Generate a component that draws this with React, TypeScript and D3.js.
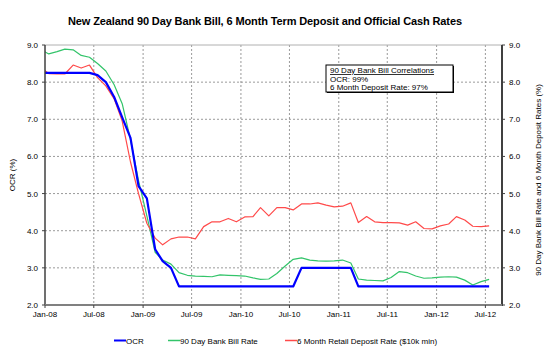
import React from "react";
import * as d3 from "d3";

// Monthly observations (plotted mid-month), Dec-07 .. Jul-12
const startMonth = new Date(2007, 11, 1);
const endMonth = new Date(2012, 7, 1);

const ocr = [
  8.25,
  8.25, 8.25, 8.25, 8.25, 8.25, 8.25,
  8.19, 8.0, 7.6, 7.05, 6.5, 5.2,
  4.87, 3.5, 3.18, 3.0,
  2.5, 2.5, 2.5, 2.5, 2.5, 2.5, 2.5, 2.5, 2.5, 2.5, 2.5, 2.5, 2.5, 2.5, 2.5,
  3.0, 3.0, 3.0, 3.0, 3.0, 3.0, 3.0,
  2.5, 2.5, 2.5, 2.5, 2.5, 2.5, 2.5, 2.5, 2.5, 2.5, 2.5, 2.5, 2.5, 2.5, 2.5, 2.5, 2.5,
];

const bankBill = [
  8.88,
  8.76, 8.82, 8.89, 8.87, 8.72, 8.67, 8.5, 8.3, 7.93, 7.42, 6.45, 5.35,
  4.4, 3.42, 3.21, 3.1, 2.87, 2.8, 2.78, 2.77, 2.76, 2.81, 2.8, 2.79,
  2.78, 2.73, 2.69, 2.7, 2.85, 3.05, 3.23, 3.27, 3.21, 3.19, 3.18, 3.19,
  3.21, 3.13, 2.7, 2.67, 2.66, 2.65, 2.74, 2.9, 2.87, 2.78, 2.72, 2.73,
  2.75, 2.76, 2.75, 2.67, 2.54, 2.63, 2.69,
];

const deposit = [
  8.4,
  8.23, 8.22, 8.22, 8.46, 8.38, 8.46, 8.12, 7.9, 7.55, 6.95, 5.85, 5.0,
  4.2, 3.8, 3.62, 3.78, 3.83, 3.83, 3.78, 4.11, 4.24, 4.24, 4.33, 4.24,
  4.37, 4.38, 4.62, 4.4, 4.62, 4.62, 4.56, 4.72, 4.72, 4.75, 4.69, 4.64,
  4.66, 4.75, 4.22, 4.38, 4.24, 4.22, 4.22, 4.21, 4.15, 4.24, 4.06, 4.05,
  4.13, 4.18, 4.38, 4.29, 4.12, 4.11, 4.13,
];

const yTicks = [2, 3, 4, 5, 6, 7, 8, 9];
const xTickLabels = ["Jan-08", "Jul-08", "Jan-09", "Jul-09", "Jan-10", "Jul-10", "Jan-11", "Jul-11", "Jan-12", "Jul-12"];
const seriesNames = ["OCR", "90 Day Bank Bill Rate", "6 Month Retail Deposit Rate ($10k min)"];
const seriesColors = ["#0000ff", "#33c46a", "#ff4a4a"];
const correlationLines = ["90 Day Bank Bill Correlations", "OCR: 99%", "6 Month Deposit Rate: 97%"];
const title = "New Zealand 90 Day Bank Bill, 6 Month Term Deposit and Official Cash Rates";

const W = 550, H = 358;
const L = 45, R = 502, T = 45, B = 305;
const FONT = "'Liberation Sans', Arial, sans-serif";

export default function App() {
  const months = d3.timeMonth.range(startMonth, endMonth);
  const dates = months.map((m) => d3.timeDay.offset(m, 14));
  const x = d3.scaleTime().domain([new Date(2008, 0, 1), new Date(2012, 8, 1)]).range([L, R]);
  const y = d3.scaleLinear().domain([2, 9]).range([B, T]);
  const tickDates = d3.timeMonth.every(6)!.range(new Date(2008, 0, 1), new Date(2012, 7, 1));

  const line = d3
    .line<number>()
    .x((_, i) => x(dates[i]))
    .y((d) => y(d));

  const series = [ocr, bankBill, deposit];
  const widths = [2.2, 1.2, 1.2];

  const legendX = [114, 168, 285];

  return (
    <svg width={W} height={H} style={{ position: "absolute", left: 0, top: 0, background: "#fff" }} fontFamily={FONT}>
      <defs>
        <clipPath id="plot">
          <rect x={L} y={T - 2} width={R - L} height={B - T + 4} />
        </clipPath>
      </defs>
      <rect x={0} y={0} width={W} height={H} fill="#fff" />
      <text x={68} y={25} fontSize={11} fontWeight="bold" fill="#000" textLength={394} lengthAdjust="spacing">
        {title}
      </text>

      {/* grid */}
      {yTicks.slice(1, -1).map((t) => (
        <line key={"h" + t} x1={L} x2={R} y1={y(t)} y2={y(t)} stroke="#808080" strokeWidth={0.8} strokeDasharray="2,2" />
      ))}
      {tickDates.slice(1).map((d, i) => (
        <line key={"v" + i} x1={x(d)} x2={x(d)} y1={T} y2={B} stroke="#808080" strokeWidth={0.8} strokeDasharray="2,2" />
      ))}
      <line x1={L} x2={R} y1={T} y2={T} stroke="#b0b0b0" strokeWidth={1} />

      {/* series */}
      <g clipPath="url(#plot)">
        {[1, 2, 0].map((s) => (
          <path key={s} d={line(series[s]) || ""} fill="none" stroke={seriesColors[s]} strokeWidth={widths[s]} strokeLinejoin="round" />
        ))}
      </g>

      {/* axes */}
      <line x1={L} x2={L} y1={T} y2={B} stroke="#404040" strokeWidth={1.5} />
      <line x1={R} x2={R} y1={T} y2={B + 1} stroke="#404040" strokeWidth={2} />
      <line x1={L} x2={R} y1={B} y2={B} stroke="#808080" strokeWidth={2} />

      {yTicks.map((t) => (
        <g key={"yl" + t}>
          <line x1={L - 3} x2={L} y1={y(t)} y2={y(t)} stroke="#404040" strokeWidth={1} />
          <text x={38} y={y(t) + 3} textAnchor="end" fontSize={8} fill="#000">
            {t.toFixed(1)}
          </text>
          <line x1={R} x2={R + 3} y1={y(t)} y2={y(t)} stroke="#404040" strokeWidth={1} />
          <text x={509} y={y(t) + 3} textAnchor="start" fontSize={8} fill="#000">
            {t.toFixed(1)}
          </text>
        </g>
      ))}

      {tickDates.map((d, i) => (
        <g key={"xt" + i}>
          <line x1={x(d)} x2={x(d)} y1={B} y2={B + 3} stroke="#404040" strokeWidth={1} />
          <text x={x(d)} y={316.5} textAnchor="middle" fontSize={8} fill="#000">
            {xTickLabels[i]}
          </text>
        </g>
      ))}

      <text transform={`translate(15,175) rotate(-90)`} textAnchor="middle" fontSize={8} fill="#000">
        OCR (%)
      </text>
      <text transform={`translate(541,180) rotate(-90)`} textAnchor="middle" fontSize={8} fill="#000">
        90 Day Bank Bill Rate and 6 Month Deposit Rates (%)
      </text>

      {/* correlation box */}
      <rect x={327} y={66} width={127} height={27} fill="#000" />
      <rect x={326} y={65} width={127} height={27} fill="#fff" stroke="#000" strokeWidth={1} />
      {correlationLines.map((t, i) => (
        <text key={"c" + i} x={330} y={73 + i * 8.5} fontSize={8} fill="#000" textDecoration={i === 0 ? "underline" : undefined}>
          {t}
        </text>
      ))}

      {/* legend */}
      {seriesNames.map((n, i) => (
        <g key={"lg" + i}>
          <line x1={legendX[i]} x2={legendX[i] + 12} y1={340.5} y2={340.5} stroke={seriesColors[i]} strokeWidth={i === 0 ? 2 : 1.5} />
          <text x={legendX[i] + 12} y={343.5} fontSize={8} fill="#000">
            {n}
          </text>
        </g>
      ))}
    </svg>
  );
}
